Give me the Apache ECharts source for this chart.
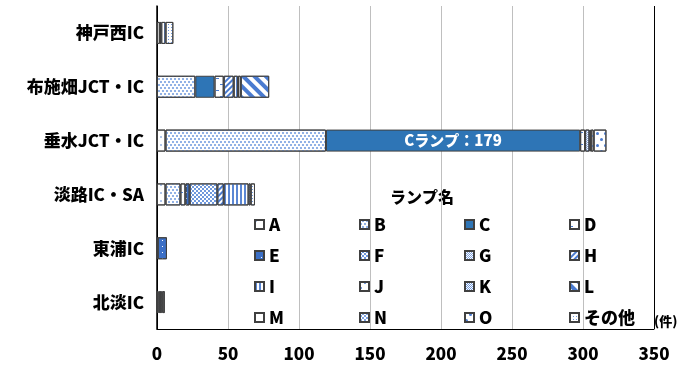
<!DOCTYPE html>
<html><head><meta charset="utf-8">
<script src="https://cdn.jsdelivr.net/npm/echarts@6/dist/echarts.min.js"></script>
<style>html,body{margin:0;padding:0;background:#fff}#c{width:685px;height:369px}</style>
</head><body><div id="c"></div>
<script>
const categories = ['神戸西IC','布施畑JCT・IC','垂水JCT・IC','淡路IC・SA','東浦IC','北淡IC'];
const seriesNames = ['A','B','C','D','E','F','G','H','I','J','K','L','M','N','O','その他'];
const A = [2, 0, 6, 6, 0.5, 0];
const B = [0, 27, 113, 10.5, 0, 0];
const C = [0, 13.5, 179, 0, 0, 0];
const D = [0, 6.5, 3.5, 3.5, 0, 0];
const E = [1, 0, 0, 3, 6.5, 1];
const F = [0, 0, 0, 19.5, 0, 0];
const G = [0, 0, 3, 0, 0, 1];
const H = [0, 7, 0, 4.5, 0, 0];
const I = [3, 3, 1, 17.5, 0, 0];
const J = [0, 2, 2, 0, 0, 0];
const K = [0, 0, 0, 1.5, 0, 1];
const L = [0, 20, 0, 0, 0, 0];
const M = [0, 0, 0, 0, 0, 0];
const N = [0, 0, 0, 0, 0, 1];
const O = [0, 0, 9, 0, 0, 0];
const Other = [5.5, 0, 0, 3, 0, 1.5];
const xTicks = [0, 50, 100, 150, 200, 250, 300, 350];
const values = [A,B,C,D,E,F,G,H,I,J,K,L,M,N,O,Other];

const BL = '#4A7BD0';
const styles = {
  'A': {color:'#fff', decal:{symbol:'circle', symbolSize:0.8, color:BL, dashArrayX:[2,6], dashArrayY:[2,6]}},
  'B': {color:'#fff', decal:{symbol:'circle', symbolSize:1, color:'#6E98DE', dashArrayX:[[2,2],[0,2,2,0]], dashArrayY:[2,1]}},
  'C': {color:'#2E75B6'},
  'D': {color:'#fff', decal:{symbol:'rect', symbolSize:1, color:BL, dashArrayX:[[3,5],[0,4,3,1]], dashArrayY:[1,5]}},
  'E': {color:'#3B6FC6', decal:{symbol:'rect', symbolSize:1, color:'#fff', dashArrayX:[1,5], dashArrayY:[1,5]}},
  'F': {color:'#fff', decal:{symbol:'rect', symbolSize:1, color:'#6F98DC', dashArrayX:[[2,2],[0,2,2,0]], dashArrayY:[2,0]}},
  'G': {color:'#fff', decal:{symbol:'rect', symbolSize:1, color:'#7FA3E0', dashArrayX:[[1,1],[0,1,1,0]], dashArrayY:[1,0]}},
  'H': {color:'#fff', decal:{symbol:'rect', symbolSize:1, color:BL, dashArrayX:[1,0], dashArrayY:[2,2], rotation:-Math.PI/4}},
  'I': {color:'#fff', decal:{symbol:'rect', symbolSize:1, color:'#5B87D4', dashArrayX:[2,2], dashArrayY:[1,0]}},
  'J': {color:'#fff', decal:{symbol:'circle', symbolSize:1, color:BL, dashArrayX:[[2,6],[0,4,2,2]], dashArrayY:[2,3]}},
  'K': {color:'#fff', decal:{symbol:'rect', symbolSize:1, color:'#6F98DC', dashArrayX:[[1,1],[0,1,1,0]], dashArrayY:[1,0]}},
  'L': {color:'#fff', decal:{symbol:'rect', symbolSize:1, color:BL, dashArrayX:[1,0], dashArrayY:[4,4], rotation:Math.PI/4}},
  'M': {color:'#fff', decal:{symbol:'rect', symbolSize:1, color:BL, dashArrayX:[1,7], dashArrayY:[1,7]}},
  'N': {color:'#fff', decal:{symbol:'rect', symbolSize:1, color:'#7FA3E0', dashArrayX:[[2,2],[0,2,2,0]], dashArrayY:[2,0]}},
  'O': {color:'#fff', decal:{symbol:'circle', symbolSize:1, color:BL, dashArrayX:[[3,5],[0,4,3,1]], dashArrayY:[3,3]}},
  'その他': {color:'#fff', decal:{symbol:'rect', symbolSize:1, color:'#6E98DE', dashArrayX:[1,2], dashArrayY:[1,2]}}
};

const FONT = 'Noto Sans CJK JP';
const series = seriesNames.map((name, i) => ({
  name: name,
  type: 'bar',
  stack: 'total',
  barWidth: 22,
  itemStyle: Object.assign({borderColor:'#404040', borderWidth:1}, styles[name]),
  emphasis: {disabled: true},
  data: values[i].map((v, j) => {
    if (v === 0) return '-';
    if (name === 'C' && j === 2) {
      return {value: v, label: {show: true, position: 'inside', formatter: 'Cランプ：{c}', color: '#fff', fontWeight: 900, fontSize: 15, fontFamily: FONT}};
    }
    return v;
  })
}));

const splitColors = xTicks.map((t, i) => (i === 0 || i === xTicks.length - 1) ? '#000' : '#BFBFBF');

const chart = echarts.init(document.getElementById('c'), null, {renderer: 'canvas'});
chart.setOption({
  animation: false,
  backgroundColor: '#fff',
  textStyle: {fontFamily: FONT},
  grid: {left: 157, right: 31, top: 6, bottom: 40, containLabel: false},
  xAxis: {
    type: 'value', min: xTicks[0], max: xTicks[xTicks.length - 1], interval: 50,
    axisLine: {show: true, lineStyle: {color: '#000', width: 1}},
    axisTick: {show: false},
    axisLabel: {color: '#000', fontWeight: 900, fontSize: 17, margin: 16, fontFamily: FONT},
    splitLine: {show: true, lineStyle: {color: splitColors, width: 1}}
  },
  yAxis: {
    type: 'category', data: categories, inverse: true,
    axisLine: {show: true, lineStyle: {color: '#000', width: 1.5}},
    axisTick: {show: false},
    axisLabel: {color: '#000', fontWeight: 900, fontSize: 17, margin: 13, fontFamily: FONT}
  },
  legend: {
    data: seriesNames,
    left: 254, top: 214, width: 420,
    orient: 'horizontal',
    padding: 0,
    itemWidth: 9, itemHeight: 9, itemGap: 10,
    icon: 'rect',
    selectedMode: false,
    textStyle: {color: '#000', fontWeight: 900, fontSize: 17, width: 80, height: 21, lineHeight: 21, fontFamily: FONT}
  },
  graphic: [
    {type: 'text', left: 390, top: 189, style: {text: 'ランプ名', fill: '#000', font: '900 16px "Noto Sans CJK JP"'}},
    {type: 'text', left: 654, top: 315, style: {text: '(件)', fill: '#000', font: '900 13px "Noto Sans CJK JP"'}}
  ],
  series: series
});
</script></body></html>
